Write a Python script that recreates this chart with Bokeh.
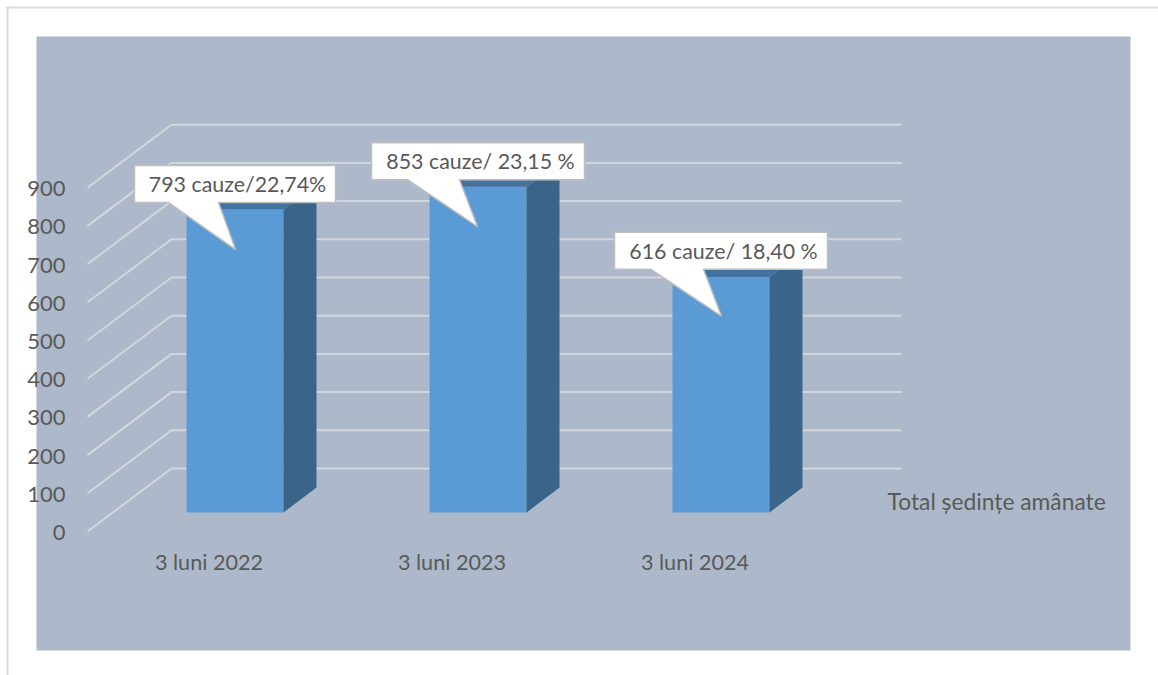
from bokeh.embed import file_html
from bokeh.resources import INLINE
from bokeh.core.properties import value
from bokeh.models import BoxAnnotation, FixedTicker, LinearAxis, Range1d
from bokeh.plotting import figure

# ---- data -------------------------------------------------------------
categories = ["3 luni 2022", "3 luni 2023", "3 luni 2024"]
cases = [793, 853, 616]
labels = ["793 cauze/22,74%", "853 cauze/ 23,15 %", "616 cauze/ 18,40 %"]
y_ticks = [0, 100, 200, 300, 400, 500, 600, 700, 800, 900]
series_name = "Total ședințe amânate"

# ---- layout constants (page pixels) ------------------------------------
W, H = 1158, 675
PX_PER_UNIT = 0.382
BASE_Y = 512           # pixel row of value 0 on the plane of the bar fronts
AXIS_SHIFT = 19
BACK_SHIFT = 44
FIRST_BAR = 186
BAR_STEP = 243
BAR_W = 97
DX, DY = 33, 25
WALL_L, WALL_M, WALL_R = 87, 171, 901
FONT = value("Lato")
TEXT = "#595959"


def units(px):
    return px / PX_PER_UNIT


p = figure(width=W, height=H, output_backend="svg", toolbar_location=None,
           x_range=Range1d(0, W),
           y_range=Range1d(-units(H - BASE_Y), units(BASE_Y)),
           min_border=0, x_axis_type=None, y_axis_type=None,
           background_fill_alpha=0, border_fill_color="white",
           outline_line_color=None)
p.grid.visible = False


def box(l, r, t, b, color):
    p.add_layout(BoxAnnotation(left=l, right=r, top=H - t, bottom=H - b,
                               left_units="screen", right_units="screen",
                               top_units="screen", bottom_units="screen",
                               fill_color=color, fill_alpha=1, line_color=None,
                               level="underlay"))


box(6, 8, 6, H, "#dcdcdc")
box(6, W, 6, 8, "#dcdcdc")
box(36, 1130, 36, 650, "#adb9ca")

# wall grid
gx, gy = [], []
for t in y_ticks:
    gx.append([WALL_L, WALL_M, WALL_R])
    gy.append([t - units(AXIS_SHIFT), t + units(BACK_SHIFT), t + units(BACK_SHIFT)])
p.multi_line(gx, gy, line_color="#d3d6db", line_width=2)

# bars
lefts = [FIRST_BAR + i * BAR_STEP for i in range(len(cases))]
rights = [l + BAR_W for l in lefts]
p.quad(left=lefts, right=rights, bottom=0, top=cases, fill_color="#5b9bd5", line_color=None)
p.patches([[r, r + DX, r + DX, r] for r in rights],
          [[0, units(DY), c + units(DY), c] for c in cases],
          fill_color="#3a6488", line_color=None)
p.patches([[l, l + DX, r + DX, r] for l, r in zip(lefts, rights)],
          [[c, c + units(DY), c + units(DY), c] for c in cases],
          fill_color="#44729f", line_color=None)

# axes
LABEL_DROP = AXIS_SHIFT + 1
p.extra_y_ranges["axis"] = Range1d(-units(H - BASE_Y - LABEL_DROP), units(BASE_Y + LABEL_DROP))
yaxis = LinearAxis(y_range_name="axis", fixed_location=70,
                   ticker=FixedTicker(ticks=y_ticks),
                   axis_line_color=None, major_tick_line_color=None,
                   minor_tick_line_color=None, major_tick_out=0, major_tick_in=0,
                   major_label_standoff=5,
                   major_label_text_font="Lato", major_label_text_font_size="22px",
                   major_label_text_color=TEXT)
p.add_layout(yaxis, "left")

LABEL_SHIFT = 26
p.extra_x_ranges["cat"] = Range1d(LABEL_SHIFT, W + LABEL_SHIFT)
cat_ticks = [l + BAR_W / 2 for l in lefts]
xaxis = LinearAxis(x_range_name="cat", fixed_location=-units(24),
                   ticker=FixedTicker(ticks=cat_ticks),
                   major_label_overrides={t: c for t, c in zip(cat_ticks, categories)},
                   axis_line_color=None, major_tick_line_color=None,
                   minor_tick_line_color=None, major_label_standoff=6,
                   major_label_text_font="Lato", major_label_text_font_size="21.6px",
                   major_label_text_color=TEXT)
p.add_layout(xaxis, "below")

# callouts: rect left, width, tail base left/right offsets, tip x, gap above bar top, tip drop
boxes = [(134, 201, 34, 84, 235, 7, 40),
         (371, 213, 36, 88, 477, 7, 40),
         (614, 213, 36, 89, 721, 8, 39)]
RECT_H = 37
cx, cy, tx, ty = [], [], [], []
for (l, w, b0, b1, tip, gap, drop), c in zip(boxes, cases):
    bottom = c + units(gap)
    top = bottom + units(RECT_H)
    cx.append([l, l + b0, tip, l + b1, l + w, l + w, l])
    cy.append([bottom, bottom, c - units(drop), bottom, bottom, top, top])
    tx.append(l + w / 2 + 2.5)
    ty.append((top + bottom) / 2)
p.patches(cx, cy, fill_color="white", line_color="#bfbfbf", line_width=1.5)
p.text(tx, ty, text=labels, text_align="center", text_baseline="middle",
       text_font=FONT, text_font_size="21.4px", text_color=TEXT)

# series name
p.text([887], [units(BASE_Y - 500)], text=[series_name], text_align="left",
       text_baseline="middle", text_font=FONT, text_font_size="22.8px", text_color=TEXT)

open("out.html", "w").write(file_html(p, INLINE))
